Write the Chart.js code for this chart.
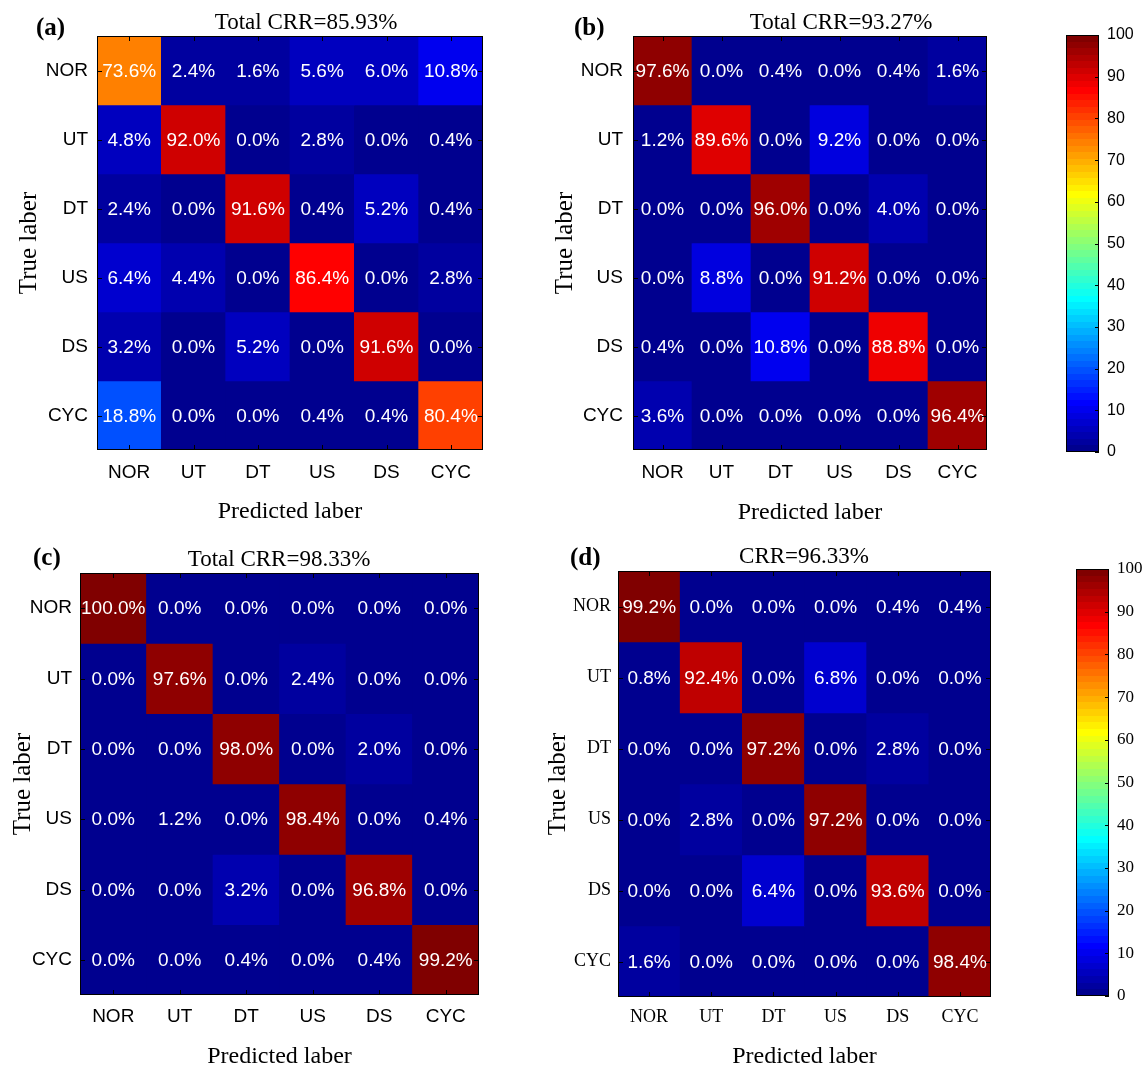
<!DOCTYPE html>
<html>
<head>
<meta charset="utf-8">
<script src="https://cdn.jsdelivr.net/npm/chart.js@4/dist/chart.umd.min.js"></script>
<style>
    html, body { margin: 0; padding: 0; background: #fff; }
    #page { position: relative; width: 1146px; height: 1068px; overflow: hidden; }
    canvas { position: absolute; }
</style>
</head>
<body>
<div id="page">
    <canvas id="cm-a" width="500" height="530" style="left:0;top:0"></canvas>
    <canvas id="cm-b" width="480" height="530" style="left:520px;top:0"></canvas>
    <canvas id="cb-b" width="96" height="480" style="left:1050px;top:0"></canvas>
    <canvas id="cm-c" width="500" height="528" style="left:0;top:540px"></canvas>
    <canvas id="cm-d" width="490" height="528" style="left:520px;top:540px"></canvas>
    <canvas id="cb-d" width="86" height="528" style="left:1060px;top:540px"></canvas>
</div>
<script>
    // class names, same order on both axes
    const classLabels = ['NOR', 'UT', 'DT', 'US', 'DS', 'CYC'];

    // confusion matrices in %, rows = true class, columns = predicted class
    const matrixA = [
        [73.6, 2.4, 1.6, 5.6, 6.0, 10.8],
        [4.8, 92.0, 0.0, 2.8, 0.0, 0.4],
        [2.4, 0.0, 91.6, 0.4, 5.2, 0.4],
        [6.4, 4.4, 0.0, 86.4, 0.0, 2.8],
        [3.2, 0.0, 5.2, 0.0, 91.6, 0.0],
        [18.8, 0.0, 0.0, 0.4, 0.4, 80.4],
    ];
    const matrixB = [
        [97.6, 0.0, 0.4, 0.0, 0.4, 1.6],
        [1.2, 89.6, 0.0, 9.2, 0.0, 0.0],
        [0.0, 0.0, 96.0, 0.0, 4.0, 0.0],
        [0.0, 8.8, 0.0, 91.2, 0.0, 0.0],
        [0.4, 0.0, 10.8, 0.0, 88.8, 0.0],
        [3.6, 0.0, 0.0, 0.0, 0.0, 96.4],
    ];
    const matrixC = [
        [100.0, 0.0, 0.0, 0.0, 0.0, 0.0],
        [0.0, 97.6, 0.0, 2.4, 0.0, 0.0],
        [0.0, 0.0, 98.0, 0.0, 2.0, 0.0],
        [0.0, 1.2, 0.0, 98.4, 0.0, 0.4],
        [0.0, 0.0, 3.2, 0.0, 96.8, 0.0],
        [0.0, 0.0, 0.4, 0.0, 0.4, 99.2],
    ];
    const matrixD = [
        [99.2, 0.0, 0.0, 0.0, 0.4, 0.4],
        [0.8, 92.4, 0.0, 6.8, 0.0, 0.0],
        [0.0, 0.0, 97.2, 0.0, 2.8, 0.0],
        [0.0, 2.8, 0.0, 97.2, 0.0, 0.0],
        [0.0, 0.0, 6.4, 0.0, 93.6, 0.0],
        [1.6, 0.0, 0.0, 0.0, 0.0, 98.4],
    ];

    const panelTitles = ['Total CRR=85.93%', 'Total CRR=93.27%', 'Total CRR=98.33%', 'CRR=96.33%'];
    const panelLetters = ['(a)', '(b)', '(c)', '(d)'];
    const colorRange = [0, 100];

    const SANS = '"Liberation Sans", Arial, sans-serif';
    const SERIF = '"Liberation Serif", "Times New Roman", serif';
    const JET_LEVELS = 64;

    // MATLAB jet(64), 1-based index
    function jetByIndex(j) {
        const u = (i) => {
            if (i < 1 || i > 47) return 0;
            if (i <= 16) return i / 16;
            if (i <= 31) return 1;
            return (48 - i) / 16;
        };
        const r = Math.round(u(j - 24) * 255);
        const g = Math.round(u(j - 8) * 255);
        const b = Math.round(u(j + 8) * 255);
        return `rgb(${r},${g},${b})`;
    }

    function jetColor(value) {
        const t = (value - colorRange[0]) / (colorRange[1] - colorRange[0]);
        const j = Math.min(JET_LEVELS, Math.max(1, Math.floor(t * JET_LEVELS) + 1));
        return jetByIndex(j);
    }

    // fills the plot area with the lowest colour so no seams show between cells
    const plotBackground = {
        id: 'plotBackground',
        beforeDatasetsDraw(chart) {
            const {ctx, chartArea: a} = chart;
            ctx.save();
            ctx.fillStyle = jetByIndex(1);
            ctx.fillRect(a.left, a.top, a.width, a.height);
            ctx.restore();
        },
    };

    const cellLabels = {
        id: 'cellLabels',
        afterDatasetsDraw(chart) {
            const {ctx} = chart;
            ctx.save();
            ctx.fillStyle = '#fff';
            ctx.font = '19px ' + SANS;
            ctx.textAlign = 'center';
            ctx.textBaseline = 'middle';
            chart.data.datasets.forEach((dataset, di) => {
                chart.getDatasetMeta(di).data.forEach((bar, ci) => {
                    const {x, y, base} = bar.getProps(['x', 'y', 'base'], true);
                    ctx.fillText(dataset.values[ci].toFixed(1) + '%', x, (y + base) / 2 + 1);
                });
            });
            ctx.restore();
        },
    };

    // box around the plot with inward ticks
    const frameTicks = {
        id: 'frameTicks',
        afterDraw(chart, args, opts) {
            const {ctx, chartArea: a, scales} = chart;
            const len = opts.length || 5;
            ctx.save();
            ctx.strokeStyle = '#000';
            ctx.lineWidth = 1;
            ctx.beginPath();
            if (opts.xTicks) {
                scales.x.ticks.forEach((t, i) => {
                    const px = Math.round(scales.x.getPixelForTick(i)) + 0.5;
                    ctx.moveTo(px, a.top);
                    ctx.lineTo(px, a.top + len);
                    ctx.moveTo(px, a.bottom);
                    ctx.lineTo(px, a.bottom - len);
                });
            }
            scales.y.ticks.forEach((t, i) => {
                const py = Math.round(scales.y.getPixelForTick(i)) + 0.5;
                if (opts.leftTicks) {
                    ctx.moveTo(a.left, py);
                    ctx.lineTo(a.left + len, py);
                }
                ctx.moveTo(a.right, py);
                ctx.lineTo(a.right - len, py);
            });
            ctx.stroke();
            ctx.strokeRect(Math.round(a.left) + 0.5, Math.round(a.top) + 0.5,
                Math.round(a.width) - 1, Math.round(a.height) - 1);
            ctx.restore();
        },
    };

    const panelText = {
        id: 'panelText',
        afterDraw(chart, args, opts) {
            const {ctx} = chart;
            ctx.save();
            ctx.fillStyle = '#000';
            ctx.textBaseline = 'alphabetic';
            ctx.font = '23px ' + SERIF;
            ctx.textAlign = 'center';
            ctx.fillText(opts.title, opts.titleX, opts.titleY);
            ctx.font = 'bold 25px ' + SERIF;
            ctx.textAlign = 'left';
            ctx.fillText(opts.letter, opts.letterX, opts.letterY);
            ctx.restore();
        },
    };

    function makePanel(id, matrix, cfg) {
        const tickFont = {family: cfg.tickFamily, size: cfg.tickSize};

        return new Chart(document.getElementById(id), {
            type: 'bar',
            data: {
                labels: classLabels,
                datasets: matrix.map((row, r) => ({
                    data: row.map(() => [r - 0.5, r + 0.5]),
                    values: row,
                    backgroundColor: row.map(jetColor),
                    borderWidth: 0,
                    barPercentage: 1,
                    categoryPercentage: 1,
                    grouped: false,
                })),
            },
            options: {
                responsive: false,
                animation: false,
                layout: {padding: cfg.padding},
                scales: {
                    x: {
                        grid: {display: false, drawTicks: false},
                        border: {display: false},
                        ticks: {color: '#000', font: tickFont, padding: cfg.xTickPad, maxRotation: 0},
                        title: {
                            display: true,
                            text: 'Predicted laber',
                            color: '#000',
                            font: {family: SERIF, size: 24},
                            padding: {top: 0, bottom: cfg.xTitlePad},
                        },
                        afterFit(scale) {
                            scale.height = cfg.xHeight;
                        },
                    },
                    y: {
                        min: -0.5,
                        max: classLabels.length - 0.5,
                        reverse: true,
                        grid: {display: false, drawTicks: false},
                        border: {display: false},
                        afterBuildTicks(scale) {
                            scale.ticks = classLabels.map((label, i) => ({value: i}));
                        },
                        ticks: {
                            color: '#000',
                            font: tickFont,
                            padding: cfg.yTickPad,
                            callback: (value) => classLabels[value],
                        },
                        title: {
                            display: true,
                            text: 'True laber',
                            color: '#000',
                            font: {family: SERIF, size: 25},
                            padding: {top: cfg.yTitlePad, bottom: 0},
                        },
                        afterFit(scale) {
                            scale.width = cfg.yWidth;
                        },
                    },
                },
                plugins: {
                    legend: {display: false},
                    tooltip: {enabled: false},
                    frameTicks: {xTicks: true, leftTicks: true, length: 5},
                    panelText: cfg.text,
                },
            },
            plugins: [plotBackground, cellLabels, frameTicks, panelText],
        });
    }

    function makeColorbar(id, cfg) {
        let gradient = null;

        return new Chart(document.getElementById(id), {
            type: 'bar',
            data: {
                labels: [''],
                datasets: [{
                    data: [colorRange],
                    backgroundColor(context) {
                        const a = context.chart.chartArea;
                        if (!a) {
                            return jetByIndex(1);
                        }
                        if (!gradient) {
                            gradient = context.chart.ctx.createLinearGradient(0, a.bottom, 0, a.top);
                            for (let k = 0; k < JET_LEVELS; k++) {
                                const c = jetByIndex(k + 1);
                                gradient.addColorStop(k / JET_LEVELS, c);
                                gradient.addColorStop((k + 1) / JET_LEVELS, c);
                            }
                        }
                        return gradient;
                    },
                    borderWidth: 0,
                    barPercentage: 1,
                    categoryPercentage: 1,
                }],
            },
            options: {
                responsive: false,
                animation: false,
                layout: {padding: cfg.padding},
                scales: {
                    x: {display: false},
                    y: {
                        position: 'right',
                        min: colorRange[0],
                        max: colorRange[1],
                        grid: {display: false, drawTicks: false},
                        border: {display: false},
                        ticks: {
                            stepSize: 10,
                            color: '#000',
                            font: {family: cfg.family, size: cfg.size},
                            padding: 8,
                        },
                        afterFit(scale) {
                            scale.width = cfg.yWidth;
                        },
                    },
                },
                plugins: {
                    legend: {display: false},
                    tooltip: {enabled: false},
                    frameTicks: {xTicks: false, leftTicks: false, length: 4},
                },
            },
            plugins: [frameTicks],
        });
    }

    makePanel('cm-a', matrixA, {
        tickFamily: SANS, tickSize: 19,
        padding: {top: 36, right: 17, left: 0, bottom: 0},
        yWidth: 97, xHeight: 80,
        yTickPad: 9, xTickPad: 11, yTitlePad: 14, xTitlePad: 4,
        text: {title: panelTitles[0], titleX: 306, titleY: 29, letter: panelLetters[0], letterX: 36, letterY: 35},
    });

    makePanel('cm-b', matrixB, {
        tickFamily: SANS, tickSize: 19,
        padding: {top: 36, right: 13, left: 0, bottom: 0},
        yWidth: 113, xHeight: 80,
        yTickPad: 10, xTickPad: 11, yTitlePad: 30, xTitlePad: 3,
        text: {title: panelTitles[1], titleX: 321, titleY: 29, letter: panelLetters[1], letterX: 54, letterY: 35},
    });

    makeColorbar('cb-b', {
        family: SANS, size: 16,
        padding: {top: 35, left: 16, right: 0, bottom: 28},
        yWidth: 47,
    });

    makePanel('cm-c', matrixC, {
        tickFamily: SANS, tickSize: 19,
        padding: {top: 33, right: 21, left: 0, bottom: -3},
        yWidth: 80, xHeight: 76,
        yTickPad: 8, xTickPad: 10, yTitlePad: 8, xTitlePad: 0,
        text: {title: panelTitles[2], titleX: 279, titleY: 26, letter: panelLetters[2], letterX: 33, letterY: 25},
    });

    makePanel('cm-d', matrixD, {
        tickFamily: SERIF, tickSize: 18,
        padding: {top: 31, right: 19, left: 0, bottom: -3},
        yWidth: 98, xHeight: 74,
        yTickPad: 7, xTickPad: 9, yTitlePad: 23, xTitlePad: 0,
        text: {title: panelTitles[3], titleX: 284, titleY: 23, letter: panelLetters[3], letterX: 50, letterY: 25},
    });

    makeColorbar('cb-d', {
        family: SERIF, size: 17,
        padding: {top: 29, left: 16, right: 0, bottom: 72},
        yWidth: 37,
    });
</script>
</body>
</html>
